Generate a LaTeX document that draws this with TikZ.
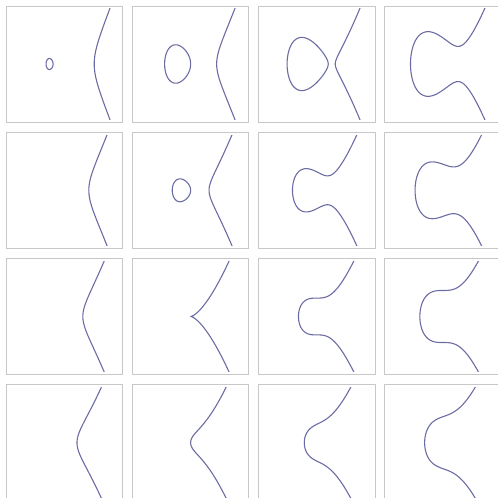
\documentclass[tikz,border=0pt]{standalone}
\definecolor{curvecol}{RGB}{108,108,165}
\definecolor{framecol}{RGB}{200,200,200}
\tikzset{
  curve/.style={draw=curvecol, line width=1.1pt, line join=round},
  panelframe/.style={draw=framecol, line width=0.9pt}
}
% branch of y^2 = x^3 + a x + b starting at the largest root r: #1 = a, #2 = r
\newcommand\ecbranch[2]{%
  \pgfmathsetmacro\ecsmax{sqrt(3.4-(#2))}%
  \draw[curve] plot[domain=-\ecsmax:\ecsmax, samples=201, smooth, variable=\s]
    ({(#2)+\s*\s},{\s*sqrt(((#2)+\s*\s)*((#2)+\s*\s)+(#2)*((#2)+\s*\s)+(#2)*(#2)+(#1))});}
% oval between roots r1 < r2, third root r3
\newcommand\ecoval[3]{%
  \draw[curve] plot[domain=0:357, samples=120, smooth cycle, variable=\t]
    ({((#1)+(#2))/2+((#2)-(#1))/2*cos(\t)},{((#2)-(#1))/2*sin(\t)*sqrt((#3)-((#1)+(#2))/2-((#2)-(#1))/2*cos(\t))});}
\newcommand\ecpanel[3]{%
  \draw[panelframe] (#1-58.25,#2-58) rectangle (#1+58.25,#2+58);
  \begin{scope}[shift={(#1pt,#2pt)}, x=18.4pt, y=18.4pt]
    \clip (-3,-3) rectangle (3,3);
    #3
  \end{scope}}
\begin{document}
\begin{tikzpicture}[x=1pt,y=1pt]
\useasboundingbox (0,0) rectangle (498,498);
\clip (0,0) rectangle (498,498);
% row 1: a = -2
\ecpanel{64.45}{434}{\ecoval{-1}{-0.618034}{1.618034}\ecbranch{-2}{1.618034}}
\ecpanel{190.65}{434}{\ecoval{-1.414214}{0}{1.414214}\ecbranch{-2}{1.414214}}
\ecpanel{316.85}{434}{\ecoval{-1.618034}{0.618034}{1}\ecbranch{-2}{1}}
\ecpanel{443.05}{434}{\ecbranch{-2}{-1.769292}}
% row 2: a = -1
\ecpanel{64.45}{307.7}{\ecbranch{-1}{1.324718}}
\ecpanel{190.65}{307.7}{\ecoval{-1}{0}{1}\ecbranch{-1}{1}}
\ecpanel{316.85}{307.7}{\ecbranch{-1}{-1.324718}}
\ecpanel{443.05}{307.7}{\ecbranch{-1}{-1.521380}}
% row 3: a = 0
\ecpanel{64.45}{181.5}{\ecbranch{0}{1}}
\ecpanel{190.65}{181.5}{\ecbranch{0}{0}}
\ecpanel{316.85}{181.5}{\ecbranch{0}{-1}}
\ecpanel{443.05}{181.5}{\ecbranch{0}{-1.259921}}
% row 4: a = 1
\ecpanel{64.45}{55.3}{\ecbranch{1}{0.682328}}
\ecpanel{190.65}{55.3}{\ecbranch{1}{0}}
\ecpanel{316.85}{55.3}{\ecbranch{1}{-0.682328}}
\ecpanel{443.05}{55.3}{\ecbranch{1}{-1}}
\end{tikzpicture}
\end{document}
